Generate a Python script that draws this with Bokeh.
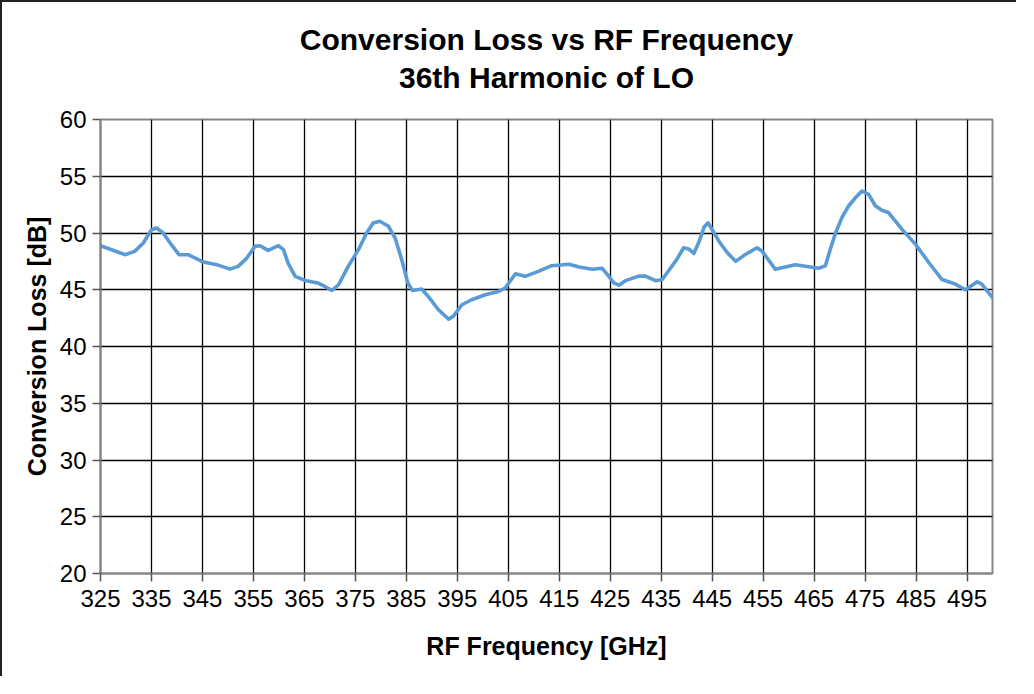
from bokeh.plotting import figure
from bokeh.models import Range1d, FixedTicker, Title
from bokeh.embed import file_html
from bokeh.resources import INLINE

freq = [325.0, 327.2, 329.8, 331.7, 333.4, 335.0, 336.0, 337.3, 338.9, 340.4,
        342.2, 345.2, 347.8, 350.4, 352.0, 353.7, 355.3, 356.3, 357.9, 359.9,
        360.9, 361.8, 363.2, 365.1, 367.7, 369.0, 370.4, 371.7, 373.6, 375.6,
        377.2, 378.5, 379.8, 381.5, 382.8, 384.1, 385.3, 386.2, 388.0, 389.3,
        391.3, 393.3, 394.2, 395.9, 397.8, 400.5, 403.1, 404.4, 406.4, 408.3,
        410.9, 413.5, 416.9, 418.9, 421.5, 423.4, 424.7, 425.7, 426.7, 428.0,
        430.6, 431.9, 433.9, 435.2, 436.5, 438.1, 439.4, 440.4, 441.4, 442.4,
        443.4, 444.2, 446.3, 447.9, 449.6, 451.5, 453.8, 454.8, 457.4, 461.3,
        465.9, 467.2, 468.2, 469.2, 470.5, 471.8, 473.1, 474.4, 475.7, 477.0,
        478.3, 479.6, 482.3, 484.9, 487.5, 490.1, 492.7, 494.7, 497.0, 497.9,
        500.0]
loss = [48.88, 48.53, 48.09, 48.38, 49.12, 50.29, 50.44, 50.0, 48.97, 48.09,
        48.09, 47.44, 47.21, 46.82, 47.06, 47.79, 48.82, 48.88, 48.47, 48.88,
        48.53, 47.35, 46.18, 45.82, 45.59, 45.29, 44.94, 45.44, 47.06, 48.53,
        50.0, 50.88, 51.03, 50.59, 49.56, 47.65, 45.59, 44.94, 45.06, 44.41,
        43.24, 42.41, 42.65, 43.68, 44.12, 44.56, 44.85, 45.15, 46.41, 46.18,
        46.62, 47.12, 47.25, 47.0, 46.8, 46.9, 46.2, 45.6, 45.4, 45.8,
        46.2, 46.2, 45.8, 45.9, 46.7, 47.7, 48.7, 48.6, 48.2, 49.2,
        50.5, 50.9, 49.3, 48.3, 47.5, 48.1, 48.7, 48.4, 46.8, 47.2,
        46.9, 47.1, 48.6, 50.0, 51.4, 52.4, 53.1, 53.7, 53.4, 52.4,
        52.0, 51.8, 50.3, 49.0, 47.4, 45.9, 45.5, 45.0, 45.7, 45.5,
        44.3]
x_ticks = [325, 335, 345, 355, 365, 375, 385, 395, 405, 415, 425, 435, 445,
           455, 465, 475, 485, 495]
y_ticks = [20, 25, 30, 35, 40, 45, 50, 55, 60]
title_lines = ["Conversion Loss vs RF Frequency", "36th Harmonic of LO"]
x_label = "RF Frequency [GHz]"
y_label = "Conversion Loss [dB]"

FONT = "Liberation Sans"

p = figure(width=1016, height=676, output_backend="svg", toolbar_location=None,
           x_range=Range1d(325, 500), y_range=Range1d(20, 60),
           min_border_left=98, min_border_right=26, min_border_top=117,
           min_border_bottom=105)
p.styles = {"border-left": "2px solid #222222", "border-top": "2px solid #222222"}

p.outline_line_color = "#868686"
p.outline_line_width = 2

for ax, ticks, lab in ((p.xaxis[0], x_ticks, x_label), (p.yaxis[0], y_ticks, y_label)):
    ax.ticker = FixedTicker(ticks=ticks)
    ax.axis_label = lab
    ax.axis_label_text_font = FONT
    ax.axis_label_text_font_style = "bold"
    ax.axis_label_text_font_size = "25px"
    ax.axis_label_text_color = "black"
    ax.major_label_text_font = FONT
    ax.major_label_text_font_size = "24px"
    ax.major_label_text_color = "black"
    ax.axis_line_color = "#868686"
    ax.axis_line_width = 2
    ax.major_tick_line_color = "#555555"
    ax.major_tick_line_width = 1.5
    ax.major_tick_out = 8
    ax.major_tick_in = 0
    ax.minor_tick_line_color = None
p.xaxis.major_label_standoff = 8
p.yaxis.major_label_standoff = 6
p.xaxis.axis_label_standoff = 22
p.yaxis.axis_label_standoff = 6

p.xgrid.ticker = FixedTicker(ticks=x_ticks)
p.ygrid.ticker = FixedTicker(ticks=y_ticks)
for g in (p.xgrid[0], p.ygrid[0]):
    g.grid_line_color = "black"
    g.grid_line_width = 1.3

p.line(freq, loss, line_color="#5B9BD5", line_width=3.6, line_join="round",
       line_cap="round")

# second line sits next to the frame, first line stacked above it
p.add_layout(Title(text=title_lines[1], align="center", text_font=FONT,
                   text_font_style="bold", text_font_size="30px",
                   text_color="black", standoff=51), "above")
p.add_layout(Title(text=title_lines[0], align="center", text_font=FONT,
                   text_font_style="bold", text_font_size="30px",
                   text_color="black", standoff=-45), "above")

open("out.html", "w").write(file_html(p, INLINE))
